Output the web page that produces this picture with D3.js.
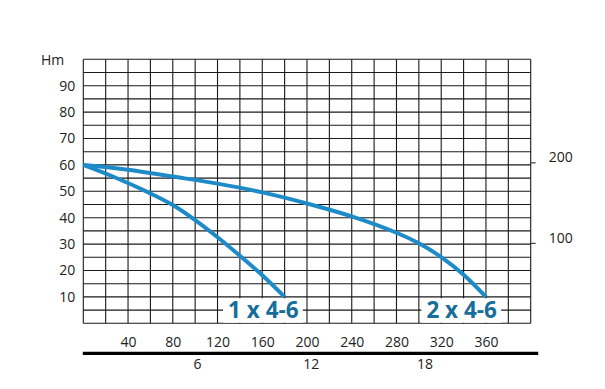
<!DOCTYPE html>
<html>
<head>
<meta charset="utf-8">
<script src="https://cdn.jsdelivr.net/npm/d3@7"></script>
<style>
  body { margin: 0; background: #fff; }
  text { font-family: "Open Sans", "DejaVu Sans", sans-serif; }
</style>
</head>
<body>
<script>
// flow in l/min, head in m
const pump1Flow = [0, 27, 60, 80, 100, 120, 140, 160, 180];
const pump1Head = [60, 55.5, 49.2, 44.8, 39.1, 32.6, 25.6, 18.2, 10];
const pump2Flow = [0, 40, 80, 120, 160, 200, 240, 280, 300, 320, 340, 360];
const pump2Head = [60, 58.2, 55.6, 52.9, 49.6, 45.4, 40.5, 34.3, 30.3, 25.1, 18.4, 10];
const seriesNames = ['1 x 4-6', '2 x 4-6'];

const headTicks = [10, 20, 30, 40, 50, 60, 70, 80, 90];
const feetTicks = [100, 200];
const flowTicks = [40, 80, 120, 160, 200, 240, 280, 320, 360];
const m3hTicks = [6, 12, 18];

var width = 605, height = 389;
var plot = { left: 83.3, right: 530.7, top: 59.3, bottom: 323.3 };

var svg = d3.select("body")
    .append("svg")
    .attr("width", width)
    .attr("height", height);

var x = d3.scaleLinear().domain([0, 400]).range([plot.left, plot.right]);
var y = d3.scaleLinear().domain([0, 100]).range([plot.bottom, plot.top]);
// feet on the right side
var yFt = d3.scaleLinear().domain([0, 100 / 0.3048]).range([plot.bottom, plot.top]);
// m3/h on the second bottom row
var xM3 = d3.scaleLinear().domain([0, 23.6]).range([plot.left, plot.right]);

// grid
var grid = svg.append("g").attr("stroke", "#1a1a1a").attr("stroke-width", 1.1);
grid.selectAll("line.v")
    .data(d3.range(0, 401, 20))
    .join("line")
    .attr("class", "v")
    .attr("x1", d => x(d)).attr("x2", d => x(d))
    .attr("y1", y(0)).attr("y2", y(100));
grid.selectAll("line.h")
    .data(d3.range(0, 101, 5))
    .join("line")
    .attr("class", "h")
    .attr("x1", x(0)).attr("x2", x(400))
    .attr("y1", d => y(d)).attr("y2", d => y(d));

// left axis labels
var yAxis = svg.append("g")
    .attr("transform", `translate(${plot.left},0)`)
    .call(d3.axisLeft(y).tickValues(headTicks).tickSize(0).tickPadding(8));
yAxis.select(".domain").remove();
yAxis.selectAll("text").style("font-size", "14px").attr("fill", "#222");

svg.append("text")
    .attr("x", 41)
    .attr("y", 64.5)
    .style("font-size", "14px")
    .attr("fill", "#222")
    .text("Hm");

// right axis (feet)
var yRight = svg.append("g")
    .attr("transform", `translate(${plot.right},0)`)
    .call(d3.axisRight(yFt).tickValues(feetTicks).tickSize(5).tickPadding(13));
yRight.select(".domain").remove();
yRight.selectAll("line").attr("stroke", "#222");
yRight.selectAll("text").style("font-size", "14px").attr("fill", "#222").attr("dy", "-0.05em");

// bottom axes
var xAxis = svg.append("g")
    .attr("transform", `translate(0,${plot.bottom})`)
    .call(d3.axisBottom(x).tickValues(flowTicks).tickSize(0).tickPadding(14));
xAxis.select(".domain").remove();
xAxis.selectAll("text").style("font-size", "14px").attr("fill", "#222");

svg.append("line")
    .attr("x1", x(0) - 0.5).attr("x2", x(400) + 7.5)
    .attr("y1", 353.3).attr("y2", 353.3)
    .attr("stroke", "#000")
    .attr("stroke-width", 3.2);

var x2Axis = svg.append("g")
    .attr("transform", "translate(0,353)")
    .call(d3.axisBottom(xM3).tickValues(m3hTicks).tickSize(0).tickPadding(6));
x2Axis.select(".domain").remove();
x2Axis.selectAll("text").style("font-size", "14px").attr("fill", "#222");

// curves
var line = d3.line()
    .x(d => x(d[0]))
    .y(d => y(d[1]))
    .curve(d3.curveCatmullRom.alpha(0.5));

var series = [
    d3.zip(pump1Flow, pump1Head),
    d3.zip(pump2Flow, pump2Head)
];

svg.selectAll("path.curve")
    .data(series)
    .join("path")
    .attr("class", "curve")
    .attr("d", line)
    .attr("fill", "none")
    .attr("stroke", "#1e8bc9")
    .attr("stroke-width", 4);

// labels with white background
series.forEach(function (s, i) {
    var last = s[s.length - 1];
    var g = svg.append("g");
    var t = g.append("text")
        .attr("x", x(last[0]) + (i === 0 ? 14 : 11))
        .attr("y", y(0) - 5)
        .attr("text-anchor", "end")
        .style("font-size", "22.5px")
        .style("font-weight", "bold")
        .attr("fill", "#176e9a")
        .text(seriesNames[i]);
    var bb = t.node().getBBox();
    g.insert("rect", "text")
        .attr("x", bb.x - 5)
        .attr("y", y(0) - 25)
        .attr("width", bb.width + 9)
        .attr("height", 24.4)
        .attr("fill", "#fff");
});
</script>
</body>
</html>
